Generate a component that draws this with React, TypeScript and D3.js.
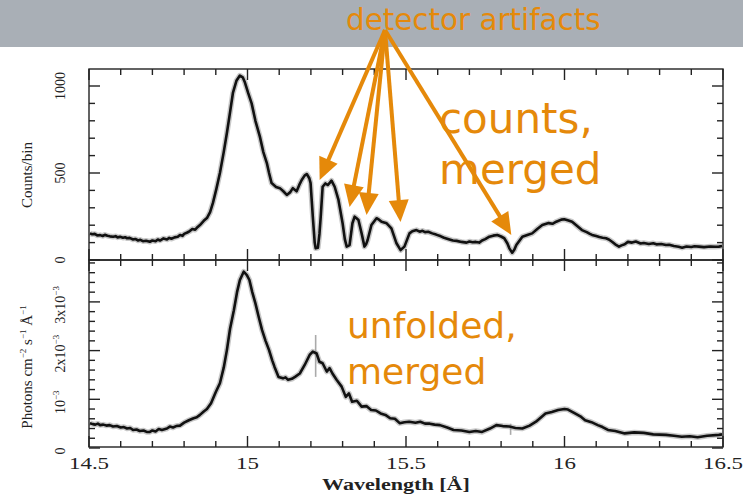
import React from "react";
import * as d3 from "d3";

// ---- data ----
const countsLambda = [14.503,14.51,14.518,14.526,14.535,14.543,14.55,14.558,14.566,14.576,14.584,14.59,14.598,14.607,14.614,14.62,14.628,14.639,14.646,14.655,14.662,14.67,14.68,14.692,14.7,14.71,14.717,14.724,14.735,14.746,14.753,14.76,14.77,14.78,14.787,14.795,14.8,14.81,14.818,14.826,14.835,14.843,14.85,14.862,14.872,14.882,14.891,14.902,14.913,14.925,14.935,14.945,14.954,14.965,14.976,14.985,14.991,15.002,15.013,15.025,15.039,15.05,15.061,15.068,15.076,15.09,15.102,15.113,15.124,15.135,15.143,15.155,15.163,15.171,15.18,15.187,15.195,15.199,15.206,15.212,15.215,15.222,15.227,15.231,15.237,15.246,15.253,15.26,15.265,15.275,15.287,15.3,15.307,15.313,15.322,15.331,15.338,15.344,15.35,15.36,15.369,15.374,15.379,15.391,15.407,15.415,15.423,15.439,15.454,15.47,15.483,15.495,15.511,15.52,15.533,15.543,15.552,15.56,15.57,15.583,15.595,15.61,15.62,15.637,15.648,15.66,15.675,15.691,15.7,15.71,15.72,15.731,15.74,15.75,15.763,15.775,15.788,15.8,15.81,15.82,15.826,15.835,15.842,15.848,15.867,15.885,15.898,15.915,15.93,15.95,15.962,15.974,15.99,15.999,16.01,16.024,16.04,16.055,16.07,16.08,16.087,16.1,16.11,16.12,16.131,16.14,16.15,16.16,16.172,16.18,16.19,16.2,16.213,16.225,16.24,16.25,16.266,16.28,16.29,16.305,16.32,16.33,16.345,16.36,16.371,16.385,16.4,16.41,16.424,16.44,16.46,16.475,16.487,16.497];
const countsValues = [153,148,150,141,143,138,145,139,136,134,137,130,133,128,131,125,127,118,121,112,116,108,111,105,112,108,118,112,124,118,127,122,130,134,144,139,150,158,166,178,174,190,201,225,241,275,328,410,500,620,730,850,960,1030,1060,1050,1025,960,900,800,709,620,557,500,442,420,413,395,374,390,413,395,430,460,485,494,470,442,249,100,67,70,150,249,421,440,431,445,456,421,345,211,120,77,86,211,249,240,230,153,77,90,115,201,240,232,220,211,182,96,57,77,153,165,172,163,168,160,162,153,146,136,128,118,112,110,104,100,106,102,104,100,112,120,134,140,144,135,125,95,67,42,60,86,134,145,153,180,201,212,208,220,232,234,228,220,195,172,160,150,144,138,132,128,125,118,105,90,77,84,90,104,100,106,95,98,92,96,90,92,86,88,80,76,71,78,75,79,77,74,78,76,77,80];

const fluxLambda = [14.503,14.512,14.52,14.528,14.535,14.545,14.555,14.565,14.576,14.588,14.6,14.61,14.62,14.63,14.639,14.65,14.66,14.672,14.682,14.692,14.7,14.71,14.72,14.73,14.746,14.755,14.765,14.775,14.787,14.8,14.815,14.83,14.84,14.85,14.862,14.872,14.885,14.9,14.913,14.925,14.935,14.945,14.957,14.967,14.976,14.988,14.998,15.006,15.015,15.025,15.035,15.046,15.057,15.068,15.078,15.085,15.098,15.112,15.12,15.128,15.14,15.15,15.165,15.18,15.196,15.206,15.218,15.227,15.237,15.25,15.259,15.268,15.281,15.297,15.31,15.32,15.33,15.345,15.36,15.375,15.39,15.405,15.42,15.435,15.45,15.465,15.48,15.495,15.51,15.53,15.545,15.56,15.575,15.59,15.607,15.63,15.65,15.675,15.7,15.72,15.74,15.765,15.785,15.805,15.826,15.845,15.867,15.89,15.91,15.94,15.96,15.98,16.0,16.011,16.033,16.05,16.065,16.085,16.105,16.12,16.137,16.16,16.19,16.22,16.25,16.28,16.32,16.345,16.37,16.395,16.42,16.45,16.487,16.497];
const fluxValues = [0.51,0.49,0.48,0.5,0.47,0.48,0.46,0.47,0.44,0.45,0.42,0.43,0.4,0.41,0.37,0.38,0.35,0.36,0.33,0.33,0.36,0.34,0.39,0.37,0.4,0.44,0.42,0.45,0.46,0.52,0.57,0.61,0.63,0.68,0.75,0.8,0.92,1.15,1.33,1.65,2.01,2.45,2.83,3.2,3.45,3.62,3.55,3.45,3.2,2.97,2.7,2.42,2.2,2.01,1.8,1.67,1.46,1.43,1.45,1.4,1.42,1.46,1.53,1.7,1.91,1.98,1.94,1.77,1.74,1.57,1.64,1.53,1.4,1.26,1.05,1.12,0.95,0.97,0.85,0.86,0.78,0.77,0.71,0.68,0.61,0.6,0.51,0.53,0.54,0.52,0.54,0.5,0.5,0.48,0.47,0.42,0.37,0.36,0.33,0.35,0.33,0.4,0.47,0.45,0.44,0.41,0.4,0.46,0.54,0.71,0.74,0.78,0.8,0.79,0.71,0.65,0.57,0.53,0.47,0.43,0.37,0.35,0.3,0.32,0.31,0.28,0.27,0.25,0.23,0.24,0.22,0.25,0.27,0.28];

const fluxErrLambda = [15.215, 15.83];
const fluxErrLow = [1.46, 0.27];
const fluxErrHigh = [2.32, 0.5];

const xTickLabels = ["14.5", "15", "15.5", "16", "16.5"];
const xTickValues = [14.5, 15, 15.5, 16, 16.5];
const countTickValues = [0, 500, 1000];
const countTickLabels = ["0", "500", "1000"];
const fluxTickValues = [0, 1, 2, 3];

const artifactLambda = [15.2276, 15.322, 15.3756, 15.4827, 15.8323];
const artifactCounts = [460, 305, 259, 218, 144];

const ORANGE = "#e5890a";
const SERIF = "'Liberation Serif', 'Times New Roman', serif";
const SANS = "'DejaVu Sans', sans-serif";

export default function App() {
  const W = 743, H = 494;
  const left = 89, right = 723, top = 69, mid = 260, bottom = 447;

  const x = d3.scaleLinear().domain([14.5, 16.5]).range([left, right]);
  const yC = d3.scaleLinear().domain([0, 1000]).range([mid, 86]);
  const yF = d3.scaleLinear().domain([0, 1]).range([448, 399.3]);

  const countsData = countsLambda.map((l, i) => [l, countsValues[i]] as [number, number]);
  const fluxData = fluxLambda.map((l, i) => [l, fluxValues[i]] as [number, number]);

  const lineC = d3.line<[number, number]>().x(d => x(d[0])).y(d => Math.min(yC(d[1]), mid)).curve(d3.curveLinear);
  const lineF = d3.line<[number, number]>().x(d => x(d[0])).y(d => yF(d[1])).curve(d3.curveLinear);

  const xMinor = d3.range(0, 21).map(i => 14.5 + i * 0.1);
  const cMinor = d3.range(0, 11).map(i => i * 100);
  const fMinor = d3.range(0, 20).map(i => i * 0.2);

  const isMajorX = (v: number) => Math.abs(v * 2 - Math.round(v * 2)) < 1e-6;
  const minorLen = 6, majorLen = 11;

  const ticks: React.ReactNode[] = [];
  xMinor.forEach((v, i) => {
    const px = x(v);
    const len = isMajorX(v) ? majorLen : minorLen;
    ticks.push(<line key={"xt" + i} x1={px} x2={px} y1={top} y2={top + len} />);
    ticks.push(<line key={"xm" + i} x1={px} x2={px} y1={mid - len} y2={mid + len} />);
    ticks.push(<line key={"xb" + i} x1={px} x2={px} y1={bottom} y2={bottom - len} />);
  });
  cMinor.forEach((v, i) => {
    const py = yC(v);
    const len = v % 500 === 0 ? majorLen : minorLen;
    ticks.push(<line key={"cl" + i} x1={left} x2={left + len} y1={py} y2={py} />);
    ticks.push(<line key={"cr" + i} x1={right} x2={right - len} y1={py} y2={py} />);
  });
  fMinor.forEach((v, i) => {
    const py = yF(v);
    const len = Math.abs(v - Math.round(v)) < 1e-6 ? majorLen : minorLen;
    ticks.push(<line key={"fl" + i} x1={left} x2={left + len} y1={py} y2={py} />);
    ticks.push(<line key={"fr" + i} x1={right} x2={right - len} y1={py} y2={py} />);
  });

  const origin = [385, 30];
  const arrows = artifactLambda.map((l, i) => {
    const tx = x(l), ty = yC(artifactCounts[i]);
    const dx = tx - origin[0], dy = ty - origin[1];
    const len = Math.hypot(dx, dy);
    const ux = dx / len, uy = dy / len;
    const hl = 22, hw = 10;
    const bx = tx - ux * hl, by = ty - uy * hl;
    const pts = `${tx},${ty} ${bx - uy * hw},${by + ux * hw} ${bx + uy * hw},${by - ux * hw}`;
    return (
      <g key={"ar" + i}>
        <line x1={origin[0]} y1={origin[1]} x2={bx + ux * 2} y2={by + uy * 2} stroke={ORANGE} strokeWidth={4} />
        <polygon points={pts} fill={ORANGE} />
      </g>
    );
  });

  const sup = (t: string) => (
    <tspan fontSize={9} dy={-6}>{t}</tspan>
  );

  return (
    <svg width={W} height={H} style={{ position: "absolute", left: 0, top: 0, background: "#fff" }}>
      <rect x={0} y={0} width={W} height={47} fill="#a9afb6" />
      <text x={346} y={30} fontFamily={SANS} fontSize={29.4} fill={ORANGE}>detector artifacts</text>

      {/* spectra */}
      <path d={lineC(countsData) || ""} fill="none" stroke="#9a9a9a" strokeOpacity={0.55} strokeWidth={5.5} strokeLinejoin="round" />
      <path d={lineC(countsData) || ""} fill="none" stroke="#111" strokeWidth={2.6} strokeLinejoin="round" />
      {fluxErrLambda.map((l, i) => (
        <line key={"e" + i} x1={x(l)} x2={x(l)} y1={yF(fluxErrLow[i])} y2={yF(fluxErrHigh[i])} stroke="#aaa" strokeWidth={1.6} />
      ))}
      <path d={lineF(fluxData) || ""} fill="none" stroke="#9a9a9a" strokeOpacity={0.55} strokeWidth={5.5} strokeLinejoin="round" />
      <path d={lineF(fluxData) || ""} fill="none" stroke="#111" strokeWidth={2.6} strokeLinejoin="round" />

      {/* frames and ticks */}
      <g stroke="#222" strokeWidth={1.4} fill="none">
        <rect x={left} y={top} width={right - left} height={mid - top} />
        <rect x={left} y={mid} width={right - left} height={bottom - mid} />
        {ticks}
      </g>

      {/* tick labels */}
      <g fontFamily={SERIF} fill="#222">
        {xTickValues.map((v, i) => (
          <text key={"xl" + i} transform={`translate(${x(v)},469) scale(1.35,1)`} textAnchor="middle" fontSize={17}>{xTickLabels[i]}</text>
        ))}
        {countTickValues.map((v, i) => (
          <text key={"cl" + i} transform={`translate(65,${yC(v)}) rotate(-90)`} textAnchor="middle" fontSize={14}>{countTickLabels[i]}</text>
        ))}
        {fluxTickValues.map((v, i) => (
          <text key={"fl" + i} transform={`translate(65,${yF(v) + 3}) rotate(-90)`} textAnchor="middle" fontSize={14}>
            {v === 0 ? "0" : v === 1 ? <>10{sup("−3")}</> : <>{v}x10{sup("−3")}</>}
          </text>
        ))}
        <text transform={`translate(32,175) rotate(-90)`} textAnchor="middle" fontSize={15}>Counts/bin</text>
        <text transform={`translate(32,367) rotate(-90)`} textAnchor="middle" fontSize={15}>
          Photons cm{sup("−2")}<tspan dy={6}> s</tspan>{sup("−1")}<tspan dy={6}> Å</tspan>{sup("−1")}
        </text>
        <text transform={`translate(396,490) scale(1.3,1)`} textAnchor="middle" fontSize={17} fontWeight="bold">Wavelength [Å]</text>
      </g>

      {/* annotations */}
      {arrows}
      <g fontFamily={SANS} fill={ORANGE}>
        <text x={439} y={133} fontSize={42}>counts,</text>
        <text x={439} y={184} fontSize={42}>merged</text>
        <text x={347} y={338} fontSize={36}>unfolded,</text>
        <text x={347} y={384} fontSize={36}>merged</text>
      </g>
    </svg>
  );
}
